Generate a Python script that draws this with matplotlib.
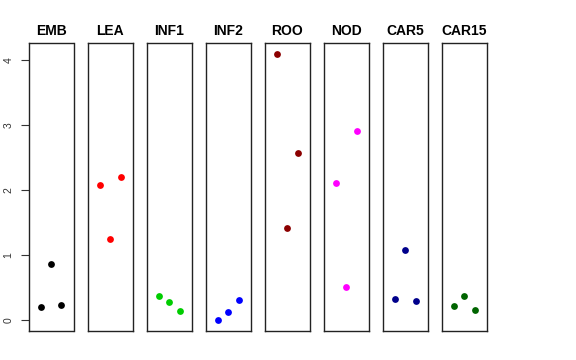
import matplotlib
matplotlib.use("Agg")
import matplotlib.pyplot as plt

plt.rcParams['font.family'] = ['Liberation Sans', 'DejaVu Sans']

# data: three replicate values per tissue
tissues = ['EMB', 'LEA', 'INF1', 'INF2', 'ROO', 'NOD', 'CAR5', 'CAR15']
reps = [1, 2, 3]
EMB = [0.20, 0.87, 0.23]
LEA = [2.09, 1.25, 2.20]
INF1 = [0.38, 0.29, 0.15]
INF2 = [0.00, 0.13, 0.31]
ROO = [4.10, 1.42, 2.58]
NOD = [2.12, 0.52, 2.91]
CAR5 = [0.33, 1.08, 0.30]
CAR15 = [0.22, 0.38, 0.16]
values = [EMB, LEA, INF1, INF2, ROO, NOD, CAR5, CAR15]
colors = ['black', 'red', '#00CD00', 'blue', '#8B0000', 'magenta', '#00008B', '#006400']

W, H = 576, 360
fig = plt.figure(figsize=(W / 100, H / 100), dpi=100)

ymin = min(min(v) for v in values)
ymax = max(max(v) for v in values)
ext = (ymax - ymin) * 0.04

left0 = 28.7
pw = 44.8
step = 59.05
top_px, bot_px = 43.3, 331

for i, (name, vals, col) in enumerate(zip(tissues, values, colors)):
    x0 = left0 + i * step
    ax = fig.add_axes([x0 / W, 1 - bot_px / H, pw / W, (bot_px - top_px) / H])
    ax.scatter(reps, vals, color=col, s=24, zorder=3, linewidths=0)
    ax.set_xlim(0 - 0.16, 4 + 0.16)
    ax.set_ylim(ymin - ext, ymax + ext)
    ax.set_xticks([])
    for sp in ax.spines.values():
        sp.set_color('#222222')
        sp.set_linewidth(1.0)
    ax.set_title(name, fontsize=10, fontweight='bold', pad=6)
    if i == 0:
        ax.set_yticks([0, 1, 2, 3, 4])
        ax.tick_params(axis='y', length=6, width=0.8, labelsize=7.5, pad=5, colors='#333333')
        for lab in ax.get_yticklabels():
            lab.set_rotation(90)
            lab.set_va('center')
    else:
        ax.set_yticks([])

fig.savefig('out.png', dpi=100)
